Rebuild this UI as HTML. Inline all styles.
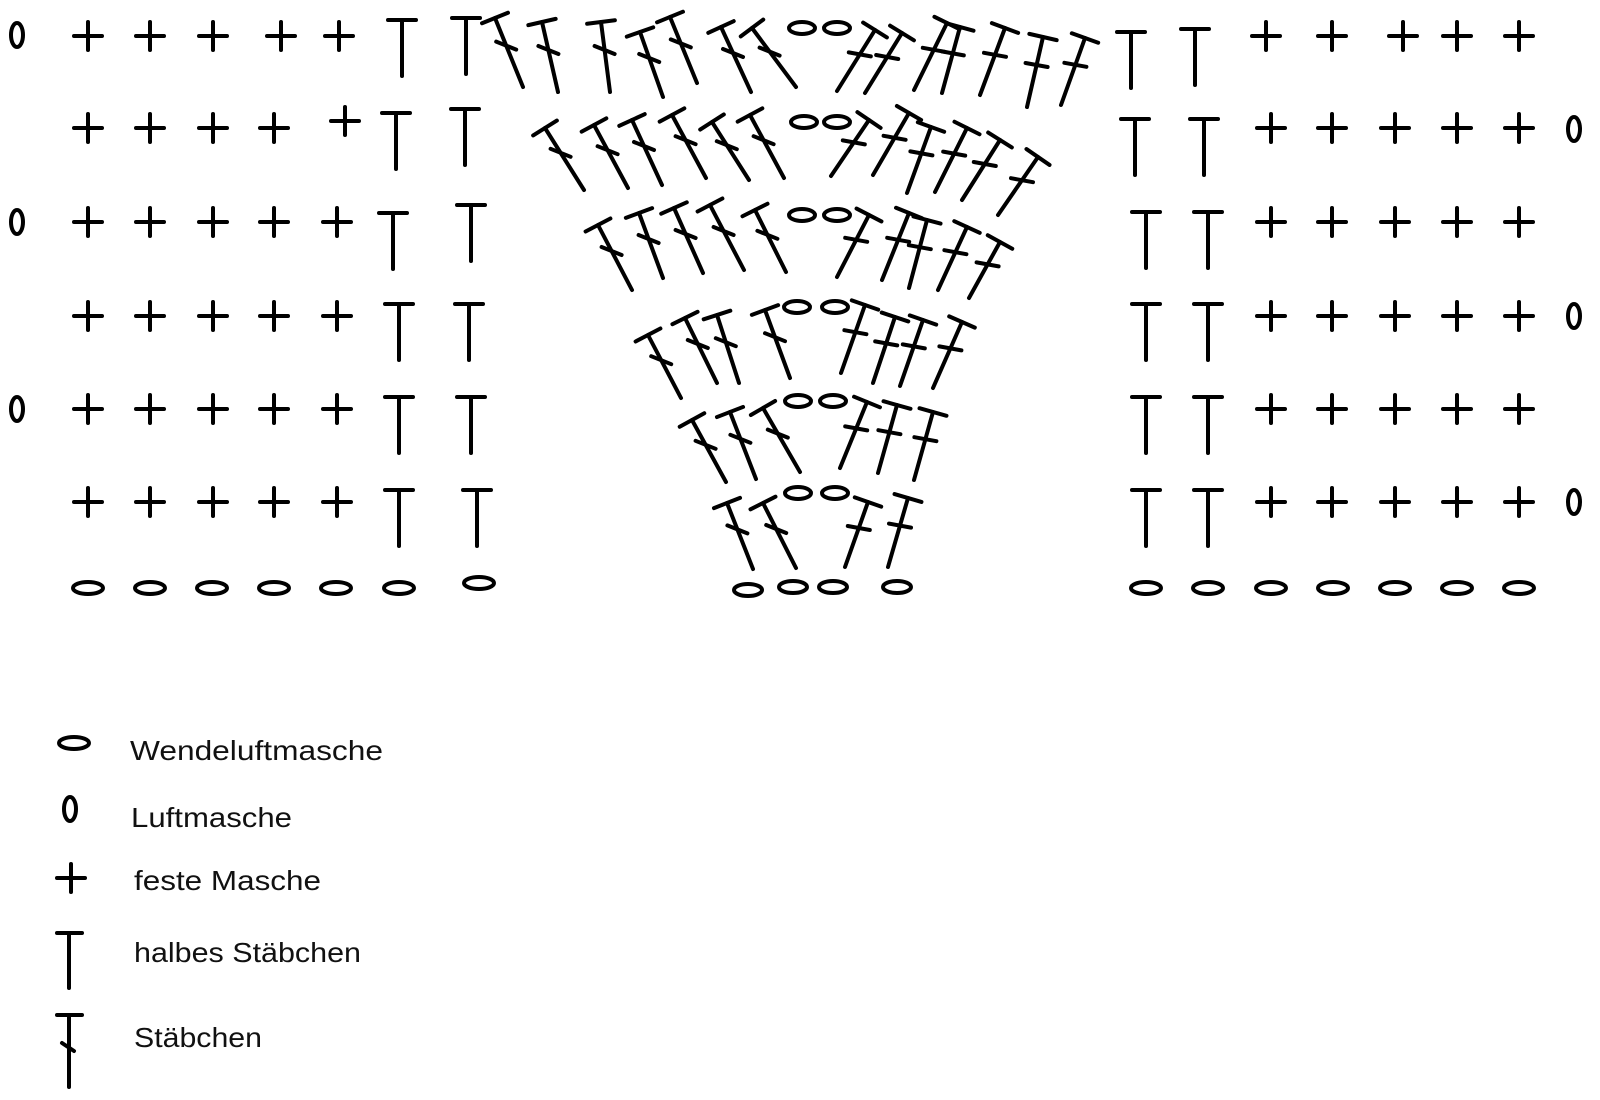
<!DOCTYPE html>
<html><head><meta charset="utf-8">
<style>
html,body{margin:0;padding:0;background:#fff;}
svg{display:block}
text{font-family:"Liberation Sans",sans-serif;fill:#111;font-size:28px}
</style></head>
<body>
<svg id="s" xmlns="http://www.w3.org/2000/svg" width="1600" height="1100" viewBox="0 0 1600 1100">
<rect width="1600" height="1100" fill="#fff"/>
<g id="g" stroke="#000" stroke-width="4" stroke-linecap="round" fill="none"></g>
<text x="130" y="760" textLength="253" lengthAdjust="spacingAndGlyphs">Wendeluftmasche</text>
<text x="131" y="827" textLength="161" lengthAdjust="spacingAndGlyphs">Luftmasche</text>
<text x="134" y="890" textLength="187" lengthAdjust="spacingAndGlyphs">feste Masche</text>
<text x="134" y="962" textLength="227" lengthAdjust="spacingAndGlyphs">halbes Stäbchen</text>
<text x="134" y="1047" textLength="128" lengthAdjust="spacingAndGlyphs">Stäbchen</text>
</svg>
<script>
var g=document.getElementById('g'),out='';
function L(a,b,c,d){out+='<line x1="'+a+'" y1="'+b+'" x2="'+c+'" y2="'+d+'"/>';}
function plus(x,y){L(x-14,y,x+14,y);L(x,y-14,x,y+14);}
function T(x,t){L(x-14,t,x+14,t);L(x,t,x,t+56);}
function ov(x,y,r){out+='<ellipse cx="'+x+'" cy="'+y+'" rx="'+(r||15)+'" ry="6"/>';}
function zero(x,y){out+='<ellipse cx="'+x+'" cy="'+y+'" rx="6" ry="12"/>';}
function dc(tx,ty,bx,by){var dx=bx-tx,dy=by-ty,l=Math.sqrt(dx*dx+dy*dy);dx/=l;dy/=l;var px=-dy,py=dx;
 L(tx+px*14,ty+py*14,tx-px*14,ty-py*14);L(tx,ty,bx,by);
 var cx=tx+dx*l*0.4,cy=ty+dy*l*0.4;
 if(bx<tx){L(cx-11,cy-2,cx+11,cy+2);}else{L(cx-10,cy-4,cx+10,cy+4);}
}
var py=[36,128,222,316,409,502];
var lx=[[88,150,213,281,339],[88,150,213,274,345],[88,150,213,274,337],[88,150,213,274,337],[88,150,213,274,337],[88,150,213,274,337]];
var rx=[[1266,1332,1403,1457,1519],[1271,1332,1395,1457,1519],[1271,1332,1395,1457,1519],[1271,1332,1395,1457,1519],[1271,1332,1395,1457,1519],[1271,1332,1395,1457,1519]];
for(var r=0;r<6;r++){for(var i=0;i<5;i++){var yy=py[r];plus(lx[r][i],(r==1&&i==4)?121:yy);plus(rx[r][i],yy);}}
var lt=[[402,20,466,18],[396,113,465,109],[393,213,471,205],[399,304,469,304],[399,397,471,397],[399,490,477,490]];
lt.forEach(function(a){T(a[0],a[1]);T(a[2],a[3]);});
var rt=[[1131,32,1195,29],[1135,119,1204,119],[1146,212,1208,212],[1146,304,1208,304],[1146,397,1208,397],[1146,490,1208,490]];
rt.forEach(function(a){T(a[0],a[1]);T(a[2],a[3]);});
zero(17,35);zero(17,222);zero(17,409);zero(1574,129);zero(1574,316);zero(1574,502);
[88,150,212,274,336,399].forEach(function(x){ov(x,588);});ov(479,583);
[1146,1208,1271,1333,1395,1457,1519].forEach(function(x){ov(x,588);});
ov(748,590,14);ov(793,587,14);ov(833,587,14);ov(897,587,14);
var D=[
[495,18,523,87],[542,22,558,92],[601,22,610,92],[640,32,663,97],[670,17,697,83],[721,27,751,92],[752,28,796,87],
[875,30,837,91],[902,33,865,93],[947,23,914,90],[960,27,942,93],[1005,28,980,95],[1043,37,1027,107],[1085,38,1061,105],
[545,128,584,190],[594,125,628,188],[632,120,662,185],[672,115,706,178],[712,122,749,180],[750,115,784,178],
[869,120,831,176],[909,113,873,175],[931,127,907,193],[967,128,935,192],[1000,140,962,200],[1038,157,998,215],
[598,225,632,290],[639,213,663,278],[674,208,703,273],[710,205,744,270],[755,210,786,272],
[869,215,837,277],[909,213,882,280],[927,220,909,288],[967,227,938,290],[1000,242,969,298],
[648,335,681,398],[685,318,717,383],[717,315,739,383],[765,310,790,378],
[865,305,841,373],[895,317,873,383],[923,320,900,386],[962,322,933,388],
[692,420,726,482],[730,412,756,479],[763,408,800,472],
[867,402,840,468],[897,405,878,473],[933,412,914,480],
[727,503,753,569],[763,503,796,568],
[868,502,845,567],[908,498,888,567]
];
D.forEach(function(a){dc(a[0],a[1],a[2],a[3]);});
var ovc=[[802,28],[837,28],[804,122],[837,122],[802,215],[837,215],[797,307],[835,307],[798,401],[833,401],[798,493],[835,493]];
ovc.forEach(function(a){ov(a[0],a[1],13);});
ov(74,743);zero(70,809);plus(71,878);
L(57,933,82,933);L(69,933,69,988);
L(57,1015,82,1015);L(69,1015,69,1087);L(62,1043,74,1051);
g.innerHTML=out;
</script>
</body></html>
